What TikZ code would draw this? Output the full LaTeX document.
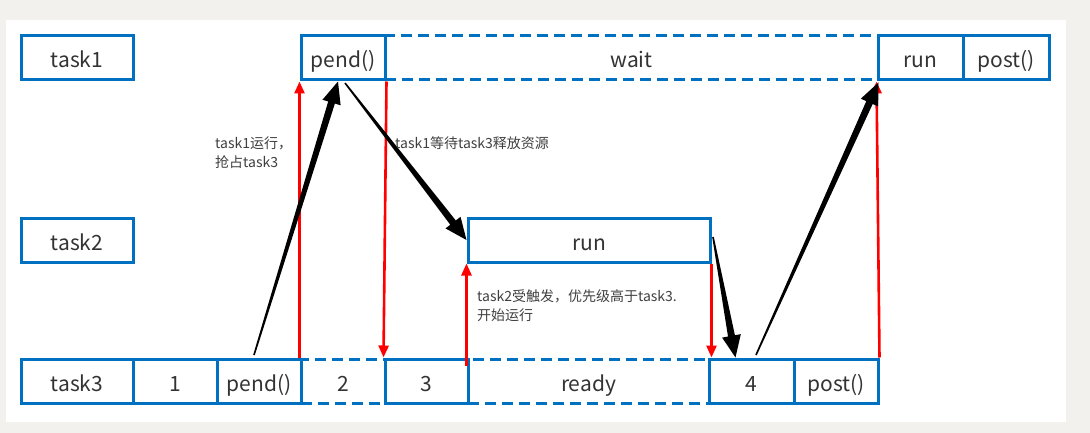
\documentclass[tikz,border=0pt]{standalone}
\usepackage{fontspec}
\setmainfont{Noto Sans CJK SC}
\usetikzlibrary{calc,arrows.meta}
\definecolor{bgc}{HTML}{F2F1EE}
\definecolor{boxblue}{HTML}{0070C0}
\definecolor{txt}{HTML}{333333}
\definecolor{lbltxt}{HTML}{404040}
\newcommand\taperarrow[2]{%
  \path ($(#2)!22pt!(#1)$) coordinate (tneck);
  \fill[black] ($(#1)!0.8pt!90:(#2)$) -- ($(tneck)!3.5pt!90:(#2)$) -- ($(tneck)!9.5pt!90:(#2)$) -- (#2)
    -- ($(tneck)!9.5pt!-90:(#2)$) -- ($(tneck)!3.5pt!-90:(#2)$) -- ($(#1)!0.8pt!-90:(#2)$) -- cycle;
}
\begin{document}
\begin{tikzpicture}[x=1pt,y=-1pt,
  box/.style={draw=boxblue, line width=3pt, minimum height=44pt, inner sep=0pt, text=txt,
    text height=20pt, text depth=0pt, font=\fontsize{21}{24}\selectfont},
  dbox/.style={box, dash pattern=on 11pt off 6pt},
  redarrow/.style={draw=red, line width=2.6pt, -{Triangle[length=12pt,width=10pt]}},
  lbl/.style={text=lbltxt, font=\fontsize{14}{18.5}\selectfont, align=left, inner sep=0pt}]
\fill[bgc] (0,0) rectangle (1090,433);
\fill[white] (6,20) rectangle (1066,422);
% dashed boxes first
\node[dbox, minimum width=493pt] (wait) at (631.5,58) {wait};
\node[dbox, minimum width=84pt] (two) at (343,381) {2};
\node[dbox, minimum width=241pt] (ready) at (588.5,381) {ready};
% row 1
\node[box, minimum width=112pt] (task1) at (77,58) {task1};
\node[box, minimum width=84pt] (pend1) at (343,58) {pend()};
\node[box, minimum width=85pt] (run1) at (920.5,58) {run};
\node[box, minimum width=86pt] (post1) at (1006,58) {post()};
% row 2
\node[box, minimum width=112pt] (task2) at (77,240) {task2};
\node[box, minimum width=242pt] (run2) at (589,240) {run};
% row 3
\node[box, minimum width=112pt] (task3) at (77,381) {task3};
\node[box, minimum width=84pt] (one) at (175,381) {1};
\node[box, minimum width=84pt] (pend3) at (259,381) {pend()};
\node[box, minimum width=83pt] (three) at (426.5,381) {3};
\node[box, minimum width=85pt] (four) at (751.5,381) {4};
\node[box, minimum width=84pt] (post3) at (836,381) {post()};
% red arrows
\draw[redarrow] (two.north west) -- (pend1.south west);
\draw[redarrow] (pend1.south east) -- (three.north west);
\draw[redarrow] ($(ready.north west)+(0,8)$) -- (run2.south west);
\draw[redarrow] (run2.south east) -- (run2.south east |- four.north);
\draw[redarrow] (post3.north east) -- (run1.south west);
% black tapered arrows
\coordinate (s1) at (254,355);
\coordinate (t1) at ($(pend1.south)+(-5,0)$);
\taperarrow{s1}{t1}
\coordinate (s2) at (345,83);
\taperarrow{s2}{run2.west}
\coordinate (s3) at (713,237);
\coordinate (t3) at ($(four.north)+(-16,0)$);
\taperarrow{s3}{t3}
\coordinate (s4) at (756,355);
\coordinate (t4) at ($(run1.south west)+(2,1)$);
\taperarrow{s4}{t4}
% labels
\node[lbl, anchor=west] (l1) at (215,152.5) {task1运行，\\抢占task3};
\node[lbl, anchor=west] (l2) at (395,143) {task1等待task3释放资源};
\node[lbl, anchor=west] (l3) at (477,305.5) {task2受触发，优先级高于task3.\\开始运行};
\end{tikzpicture}
\end{document}
